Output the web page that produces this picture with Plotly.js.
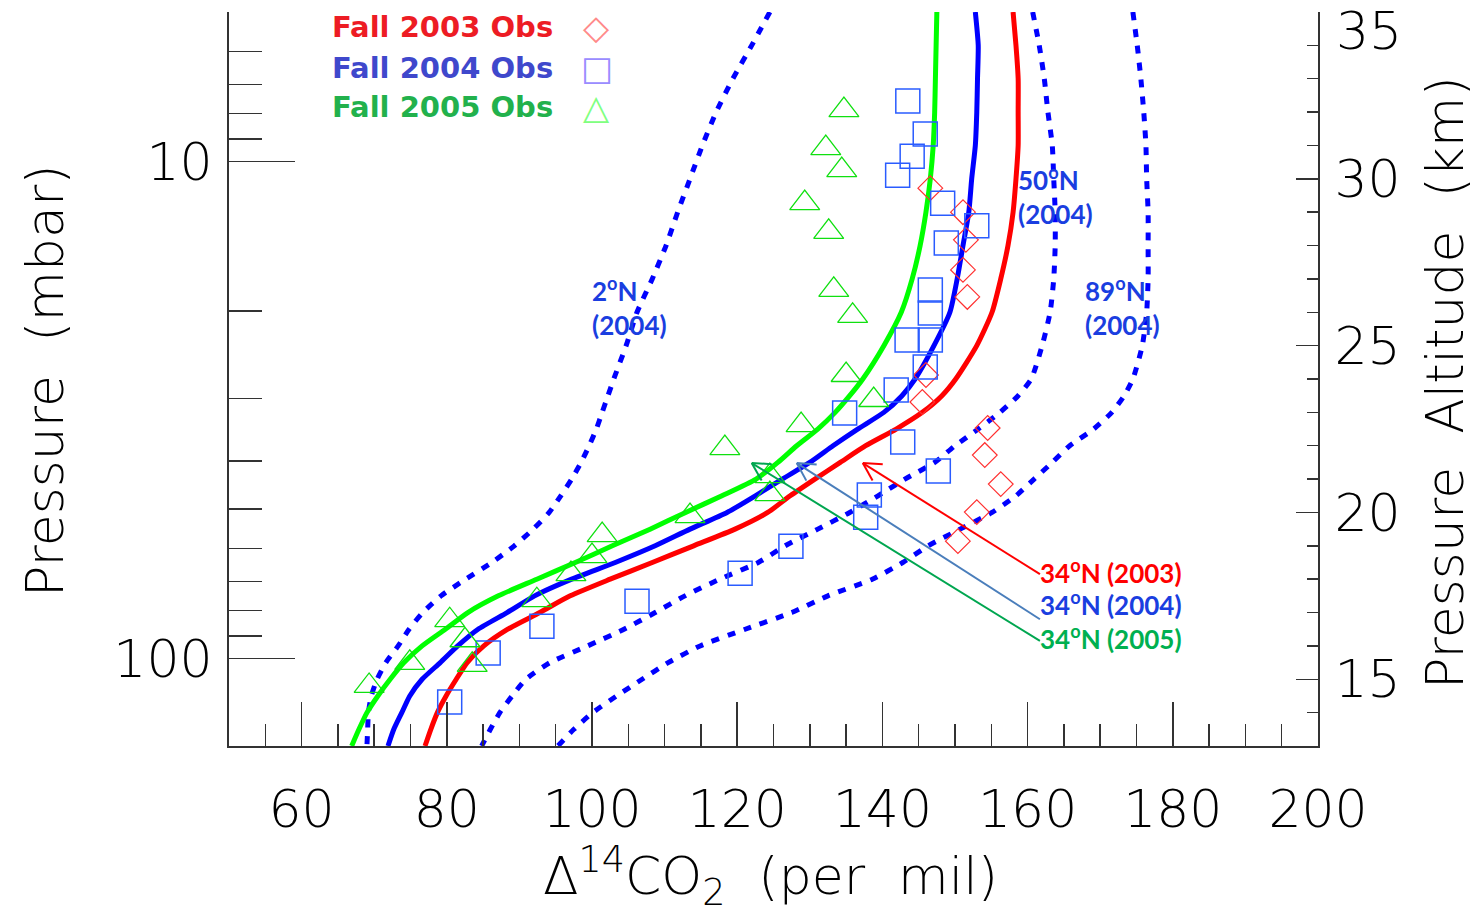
<!DOCTYPE html>
<html>
<head>
<meta charset="utf-8">
<script src="https://cdn.plot.ly/plotly-3.0.1.min.js"></script>
<style>html,body{margin:0;padding:0;background:#fff;}#chart{width:1480px;height:916px;}</style>
</head>
<body>
<div id="chart"></div>
<script>
// Pressure altitude levels (km) of the model profiles
const altKm = [35,34,33,32,31,30,29,28,27,26,25,24,23.5,23,22.5,22,21.5,21,20.5,20,19.5,19,18.5,18,17.5,17,16.5,16,15.5,15,14.5,14,13.5,13];
// Model Δ14CO2 profiles (per mil)
const n34_2005 = [147.5,147.4,147.3,147.2,147.0,146.6,146.0,145.2,144.1,142.6,140.2,137.3,135.5,133.5,131.1,128.2,125.6,122.6,117.9,112.9,108.0,102.8,97.7,92.4,87.1,82.9,79.8,76.6,74.1,72.2,70.5,69.0,67.9,66.9];
const n34_2004 = [152.8,153.2,153.1,153.0,152.8,152.3,151.9,151.1,150.3,149.3,147.1,144.5,142.7,140.2,136.6,133.2,130.0,126.2,122.5,118.6,113.5,108.7,103.2,97.2,92.1,88.3,84.3,81.5,79.1,76.6,74.9,73.8,72.7,71.9];
const n34_2003 = [158.0,158.4,158.7,158.7,158.7,158.4,158.0,157.3,156.3,155.1,153.0,150.1,148.2,145.5,141.9,137.7,134.2,130.7,127.3,124.2,119.7,114.0,108.3,102.5,97.0,92.8,88.4,85.1,82.8,81.3,79.9,78.7,77.8,77.0];
const n2_2004  = [124.5,122.0,119.4,117.1,115.2,113.5,111.8,110.2,108.3,106.2,104.7,103.0,102.2,101.4,100.6,99.6,98.5,97.2,95.7,94.1,91.9,89.3,86.2,82.6,79.2,76.7,74.8,73.3,71.6,70.4,69.6,69.2,69.1,69.0];
const n50_2004 = [160.7,161.6,162.3,162.8,163.4,163.6,163.8,163.8,163.6,163.1,162.0,160.5,158.7,156.2,153.2,150.0,147.2,143.1,139.4,135.5,131.1,126.6,122.9,117.6,112.8,108.7,104.4,99.4,94.2,90.9,89.0,87.3,86.0,84.8];
const n89_2004 = [174.5,175.1,175.6,176.0,176.3,176.4,176.6,176.6,176.6,176.4,175.8,174.5,173.3,171.6,169.1,165.8,163.4,160.9,158.4,155.1,150.7,146.3,142.8,138.6,132.5,127.5,121.1,114.9,110.5,106.9,103.4,100.1,97.5,95.3];

// Observations
const obs2003_x = [146.6,151.1,151.5,151.1,151.7,146.0,145.5,154.5,154.1,156.3,153.0,150.4];
const obs2003_z = [29.72,29.0,28.17,27.27,26.46,24.12,23.31,22.53,21.72,20.85,20.01,19.14];
const obs2004_x = [143.5,145.9,144.1,142.1,148.3,153.0,148.8,146.6,146.6,143.4,146.6,145.9,141.9,134.8,142.8,147.7,138.2,137.7,127.4,120.4,106.2,93.1,85.7,80.4];
const obs2004_z = [32.33,31.34,30.68,30.11,29.27,28.59,28.08,26.67,25.98,25.17,25.17,24.36,23.67,22.98,22.11,21.24,20.52,19.86,18.99,18.18,17.34,16.59,15.79,14.32];
const obs2005_x = [134.7,132.2,134.4,129.3,132.6,133.3,135.9,135.0,138.8,128.8,118.3,124.5,124.5,113.5,101.4,100.0,97.1,92.4,80.4,82.5,83.5,74.9,69.3];
const obs2005_z = [32.06,30.92,30.26,29.27,28.41,26.67,25.89,24.12,23.37,22.62,21.93,21.09,20.55,19.89,19.32,18.69,18.15,17.37,16.77,16.17,15.43,15.49,14.80];

// Axis ticks
const xMajor = [60,80,100,120,140,160,180,200];
const pMajor = [10,100];
const pMinor = [5,6,7,8,9,20,30,40,50,60,70,80,90];
const kmMajor = [15,20,25,30,35];
const kmLabels = ['15','20','25','30',''];

// Pointer arrows (head -> tail, in axis units)
const arrowHeadX = [137.3,128.2,122.0];
const arrowHeadZ = [21.48,21.48,21.48];
const arrowTailX = [161.7,161.7,161.7];
const arrowTailZ = [18.15,16.80,16.15];
const arrowColors = ['#ff0000','#4a7ebb','#00a650'];

const X_RANGE = [50,200], Z_RANGE = [13,35];
const PLOT_W = 1089, PLOT_H = 734;

const tickFont = {family:'DejaVu Sans', size:52, color:'#000', weight:200};
const lblFont = (c)=>({family:'Lato, Open Sans, sans-serif', size:26, color:c});
const dotted = '8px,9px';
const sp = {shape:'spline', smoothing:0.6};

const traces = [
  {x:n2_2004, y:altKm, mode:'lines', line:Object.assign({color:'#0000ff', width:5, dash:dotted}, sp)},
  {x:n50_2004, y:altKm, mode:'lines', line:Object.assign({color:'#0000ff', width:5, dash:dotted}, sp)},
  {x:n89_2004, y:altKm, mode:'lines', line:Object.assign({color:'#0000ff', width:5, dash:dotted}, sp)},
  {x:n34_2005, y:altKm, mode:'lines', line:Object.assign({color:'#00ff00', width:5}, sp)},
  {x:n34_2004, y:altKm, mode:'lines', line:Object.assign({color:'#0000ff', width:5}, sp)},
  {x:n34_2003, y:altKm, mode:'lines', line:Object.assign({color:'#ff0000', width:5}, sp)},
  {x:obs2003_x, y:obs2003_z, mode:'markers', marker:{symbol:'diamond-open', size:19, color:'#ff3030', line:{width:1.2}}},
  {x:obs2004_x, y:obs2004_z, mode:'markers', marker:{symbol:'square-open', size:24, color:'#2a5cff', line:{width:1.5}}},
  {x:obs2005_x, y:obs2005_z, mode:'markers', marker:{symbol:'triangle-up-open', size:26, color:'#10e010', line:{width:1.3}}},
  // placeholder so the pressure axis (left) is drawn
  {x:[null], y:[null], yaxis:'y2', mode:'lines', hoverinfo:'skip'}
];

const ann = [];
// axis titles
ann.push({xref:'paper', yref:'paper', x:-0.169, y:0.4986, text:'Pressure\u00a0\u00a0(mbar)', textangle:-90, showarrow:false, font:tickFont, xanchor:'center', yanchor:'middle'});
ann.push({xref:'paper', yref:'paper', x:1.1166, y:0.496, text:'Pressure\u00a0\u00a0Altitude\u00a0\u00a0(km)', textangle:-90, showarrow:false, font:tickFont, xanchor:'center', yanchor:'middle'});
ann.push({xref:'paper', yref:'paper', x:0.4977, y:-0.177, text:'\u0394<sup>14</sup>CO<sub>2</sub>\u00a0\u00a0(per\u00a0\u00a0mil)', showarrow:false, font:tickFont, xanchor:'center', yanchor:'middle'});
// top right tick label
ann.push({xref:'paper', yref:'y', x:1, y:35, xshift:16, yshift:-19, text:'35', showarrow:false, font:tickFont, xanchor:'left', yanchor:'middle'});
// legend
const legRows = [
  {t:'Fall 2003 Obs', c:'#ed1c24', s:'\u25C7', sc:'#ff8a8a', y:0.9796},
  {t:'Fall 2004 Obs', c:'#3f48cc', s:'\u25A1', sc:'#9a8cff', y:0.9237},
  {t:'Fall 2005 Obs', c:'#22b14c', s:'\u25B3', sc:'#80ff80', y:0.8706}
];
legRows.forEach(r=>{
  ann.push({xref:'paper', yref:'paper', x:0.0928, y:r.y, text:'<b>'+r.t+'</b>', showarrow:false, xanchor:'left', yanchor:'middle', font:{family:'DejaVu Sans', size:29, color:r.c}});
  ann.push({xref:'paper', yref:'paper', x:0.3375, y:r.y, text:r.s, showarrow:false, xanchor:'center', yanchor:'middle', font:{family:'DejaVu Sans', size:34, color:r.sc}});
});
// latitude labels
ann.push({x:99.7, y:26.16, text:'<b>2<sup>o</sup>N<br>(2004)</b>', showarrow:false, xanchor:'left', yanchor:'middle', align:'left', font:lblFont('#1a3ee0')});
ann.push({x:158.4, y:29.51, text:'<b>50<sup>o</sup>N<br>(2004)</b>', showarrow:false, xanchor:'left', yanchor:'middle', align:'left', font:lblFont('#1a3ee0')});
ann.push({x:167.6, y:26.16, text:'<b>89<sup>o</sup>N<br>(2004)</b>', showarrow:false, xanchor:'left', yanchor:'middle', align:'left', font:lblFont('#1a3ee0')});
ann.push({x:161.4, y:18.24, text:'<b>34<sup>o</sup>N (2003)</b>', showarrow:false, xanchor:'left', yanchor:'middle', font:lblFont('#ff0000')});
ann.push({x:161.4, y:17.28, text:'<b>34<sup>o</sup>N (2004)</b>', showarrow:false, xanchor:'left', yanchor:'middle', font:lblFont('#1a3ee0')});
ann.push({x:161.4, y:16.24, text:'<b>34<sup>o</sup>N (2005)</b>', showarrow:false, xanchor:'left', yanchor:'middle', font:lblFont('#00b050')});

// arrows as line shapes with open V heads
const pxPerX = PLOT_W/(X_RANGE[1]-X_RANGE[0]);
const pxPerZ = PLOT_H/(Z_RANGE[1]-Z_RANGE[0]);
const shapes = [];
arrowHeadX.forEach((hx,i)=>{
  const hz = arrowHeadZ[i], tx = arrowTailX[i], tz = arrowTailZ[i], c = arrowColors[i];
  shapes.push({type:'line', xref:'x', yref:'y', x0:tx, y0:tz, x1:hx, y1:hz, line:{color:c, width:2}});
  const dx = (tx-hx)*pxPerX, dy = -(tz-hz)*pxPerZ;
  const L = Math.hypot(dx,dy), ux = dx/L, uy = dy/L;
  [-0.5,0.5].forEach(a=>{
    const ca = Math.cos(a), sa = Math.sin(a);
    const vx = (ux*ca - uy*sa)*20, vy = (ux*sa + uy*ca)*20;
    shapes.push({type:'line', xref:'x', yref:'y', x0:hx, y0:hz, x1:hx + vx/pxPerX, y1:hz - vy/pxPerZ, line:{color:c, width:2}});
  });
});

const axLine = {showline:true, linecolor:'#333', linewidth:2, showgrid:false, zeroline:false};

const layout = {
  width:1480, height:916,
  margin:{l:229, r:162, t:12, b:170, pad:0},
  paper_bgcolor:'#fff', plot_bgcolor:'#fff',
  showlegend:false, hovermode:false,
  xaxis:Object.assign({}, axLine, {
    range:X_RANGE, tickmode:'array', tickvals:xMajor, ticks:'inside', ticklen:44, tickwidth:1.5, tickcolor:'#333',
    tickfont:tickFont, ticklabelstandoff:17,
    minor:{ticks:'inside', ticklen:22, tickwidth:1.5, tickcolor:'#333', tick0:0, dtick:5}
  }),
  yaxis:Object.assign({}, axLine, {
    side:'right', range:Z_RANGE, tickmode:'array', tickvals:kmMajor, ticktext:kmLabels, ticks:'inside', ticklen:22, tickwidth:1.5, tickcolor:'#333',
    tickfont:tickFont, ticklabelstandoff:4,
    minor:{ticks:'inside', ticklen:11, tickwidth:1.5, tickcolor:'#333', tick0:0, dtick:1}
  }),
  yaxis2:Object.assign({}, axLine, {
    overlaying:'y', side:'left', anchor:'x', type:'log', range:[Math.log10(150), Math.log10(5)],
    tickmode:'array', tickvals:pMajor, ticktext:['10','100'], ticks:'inside', ticklen:66, tickwidth:1.5, tickcolor:'#333',
    tickfont:tickFont, ticklabelstandoff:4,
    minor:{ticks:'inside', ticklen:33, tickwidth:1.5, tickcolor:'#333', tickmode:'array', tickvals:pMinor}
  }),
  shapes:shapes,
  annotations:ann
};

Plotly.newPlot('chart', traces, layout, {staticPlot:true, displayModeBar:false});
</script>
</body>
</html>
